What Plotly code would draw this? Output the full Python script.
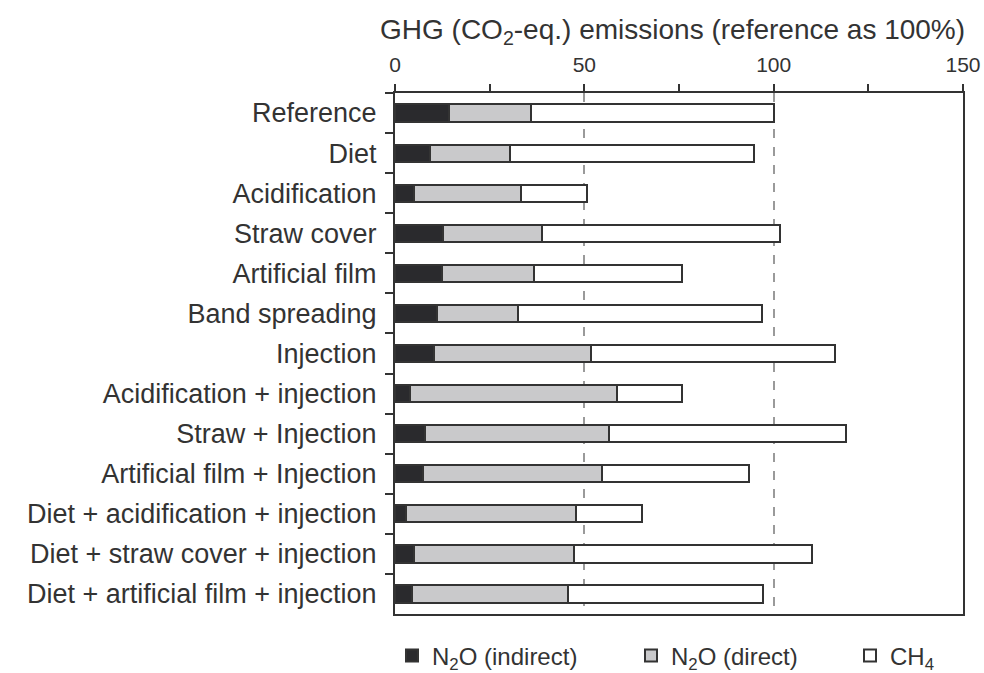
import plotly.graph_objects as go

categories = [
    "Reference", "Diet", "Acidification", "Straw cover", "Artificial film",
    "Band spreading", "Injection", "Acidification + injection",
    "Straw + Injection", "Artificial film + Injection",
    "Diet + acidification + injection", "Diet + straw cover + injection",
    "Diet + artificial film + injection",
]
n2o_indirect = [14.3, 9.2, 5.1, 12.7, 12.4, 11.1, 10.4, 4.0, 8.0, 7.4, 2.8, 5.1, 4.6]
n2o_direct = [21.6, 21.3, 28.3, 26.2, 24.4, 21.3, 41.4, 54.7, 48.5, 47.3, 45.0, 42.2, 41.0]
ch4 = [64.1, 64.3, 17.2, 62.9, 38.9, 64.4, 64.4, 17.2, 62.7, 38.9, 17.4, 62.7, 51.6]

series = [
    ("N<sub>2</sub>O (indirect)", n2o_indirect, "#2a2a2d", "legend"),
    ("N<sub>2</sub>O (direct)", n2o_direct, "#c9c9cb", "legend2"),
    ("CH<sub>4</sub>", ch4, "#ffffff", "legend3"),
]

FONT = "Arial, Liberation Sans, sans-serif"
TXT = "#333333"

fig = go.Figure()
for name, vals, col, lg in series:
    fig.add_trace(go.Bar(
        y=categories, x=vals, name=name, orientation="h", legend=lg,
        showlegend=True,
        marker=dict(color=col, line=dict(color="#333333", width=2)),
    ))

def legend_at(xpx):
    return dict(orientation="h", xref="container", yref="container",
                x=xpx / 984, xanchor="left", y=1 - 656 / 673, yanchor="middle",
                font=dict(size=24, color=TXT), bgcolor="rgba(0,0,0,0)")

fig.update_layout(
    barmode="stack",
    bargap=0.57,
    showlegend=True,
    width=984, height=673,
    margin=dict(l=395, r=21, t=93, b=59),
    paper_bgcolor="white", plot_bgcolor="white",
    font=dict(family=FONT, color=TXT, size=20),
    legend=legend_at(392),
    legend2=legend_at(631),
    legend3=legend_at(850),
    annotations=[dict(
        text="GHG (CO<sub>2</sub>-eq.) emissions (reference as 100%)",
        xref="paper", yref="paper", x=0.4877, y=1 + (93 - 31) / 521,
        xanchor="center", yanchor="middle",
        showarrow=False, font=dict(size=28, color=TXT),
    )],
)

fig.update_xaxes(
    side="top", range=[0, 150], tickvals=[0, 50, 100, 150], automargin=False,
    ticks="outside", ticklen=7, tickwidth=2, tickcolor="#333333",
    ticklabelstandoff=4,
    showline=True, linecolor="#333333", linewidth=2, mirror=True,
    showgrid=True, gridcolor="#9a9a9a", gridwidth=2, griddash="dash",
    zeroline=False, tickfont=dict(size=21, color=TXT),
    minor=dict(tickvals=[25, 75, 125], ticks="outside", ticklen=7, tickwidth=2,
               tickcolor="#333333", showgrid=False),
)
fig.update_yaxes(
    autorange="reversed", ticks="outside", tickson="boundaries", ticklen=8,
    tickwidth=2, tickcolor="#333333", automargin=False, ticklabelstandoff=11,
    showline=True, linecolor="#333333", linewidth=2, mirror=True,
    showgrid=False, tickfont=dict(size=27, color=TXT),
)

fig.write_html("out.html", config={"displayModeBar": False},
               post_script="document.body.style.margin='0';")
